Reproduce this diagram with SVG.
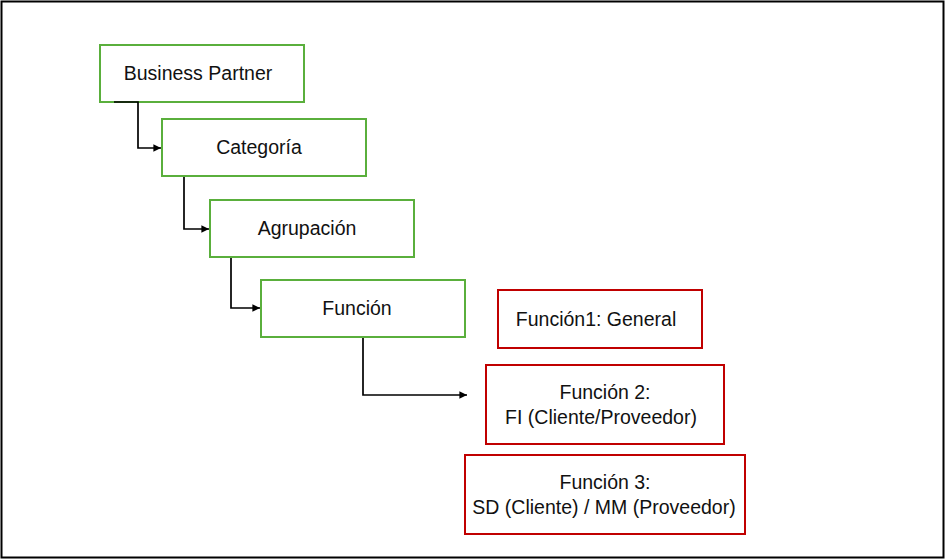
<svg xmlns="http://www.w3.org/2000/svg" width="946" height="560" viewBox="0 0 946 560">
<style>
.g{fill:#fff;stroke:#5aaf3c;stroke-width:2}
.r{fill:#fff;stroke:#c00000;stroke-width:2}
text{font-family:"Liberation Sans",Arial,sans-serif;font-size:19.5px;fill:#111;text-anchor:middle}
.c{fill:none;stroke:#000;stroke-width:1.7}
</style>
<defs>
<marker id="a" viewBox="0 0 10 10" refX="10" refY="5" markerWidth="4.5" markerHeight="4.5" orient="auto"><path d="M0,0L10,5L0,10z" fill="#000"/></marker>
</defs>
<rect x="1.5" y="1.5" width="942" height="556" fill="#fff" stroke="#000" stroke-width="2"/>
<g id="bp"><rect class="g" x="100" y="45" width="204" height="57"/><text x="198" y="80">Business Partner</text></g>
<g id="cat"><rect class="g" x="162" y="119" width="204" height="57"/><text x="259" y="154">Categoría</text></g>
<g id="agr"><rect class="g" x="210" y="200" width="204" height="57"/><text x="307" y="235">Agrupación</text></g>
<g id="fun"><rect class="g" x="261" y="280" width="204" height="57"/><text x="357" y="315">Función</text></g>
<g id="f1"><rect class="r" x="498" y="290" width="204" height="58"/><text x="596" y="326">Función1: General</text></g>
<g id="f2"><rect class="r" x="486" y="365" width="238" height="79"/><text x="605" y="399">Función 2:</text><text x="601" y="424">FI (Cliente/Proveedor)</text></g>
<g id="f3"><rect class="r" x="465" y="455" width="280" height="79"/><text x="605" y="489">Función 3:</text><text x="604" y="514">SD (Cliente) / MM (Proveedor)</text></g>
<g id="connectors">
<path class="c" d="M114,102H138V148H161" marker-end="url(#a)"/>
<path class="c" d="M184,177V229H209" marker-end="url(#a)"/>
<path class="c" d="M231,258V308H260" marker-end="url(#a)"/>
<path class="c" d="M363,338V395H467" marker-end="url(#a)"/>
</g>
</svg>
